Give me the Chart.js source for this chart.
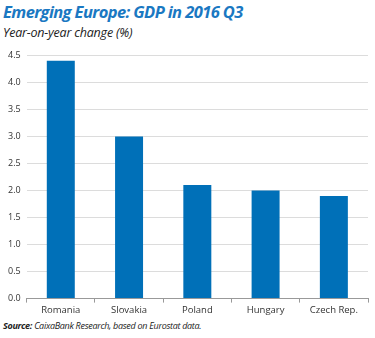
<!DOCTYPE html>
<html>
<head>
<meta charset="utf-8">
<script src="https://cdn.jsdelivr.net/npm/chart.js@4"></script>
<style>
  body { margin: 0; background: #fff; font-family: "Open Sans", sans-serif; }
  #wrap { position: relative; width: 375px; height: 338px; }
  .title { position: absolute; left: 3px; top: 0px; font: italic bold 16.5px "Open Sans", sans-serif; color: #1a78c2; letter-spacing: -0.6px; }
  .sub { position: absolute; left: 3px; top: 24px; font: italic 12.5px "Open Sans", sans-serif; color: #222; letter-spacing: -0.2px; }
  .src { position: absolute; left: 3px; top: 319px; font: italic 9px "Open Sans", sans-serif; color: #222; letter-spacing: -0.3px; }
  .src b { font-weight: bold; }
  #chartBox { position: absolute; left: 0; top: 44px; width: 375px; height: 274px; }
</style>
</head>
<body>
<div id="wrap">
  <div class="title">Emerging Europe: GDP in 2016 Q3</div>
  <div class="sub">Year-on-year change (%)</div>
  <div id="chartBox"><canvas id="c"></canvas></div>
  <div class="src"><b>Source:</b> CaixaBank Research, based on Eurostat data.</div>
</div>
<script>
const countries = ['Romania', 'Slovakia', 'Poland', 'Hungary', 'Czech Rep.'];
const gdpGrowth = [4.4, 3.0, 2.1, 2.0, 1.9];

new Chart(document.getElementById('c'), {
  type: 'bar',
  data: {
    labels: countries,
    datasets: [{
      data: gdpGrowth,
      backgroundColor: '#0070b8',
      barPercentage: 0.82,
      categoryPercentage: 0.5
    }]
  },
  options: {
    responsive: true,
    maintainAspectRatio: false,
    animation: false,
    layout: { padding: { left: 2, right: 7, top: 1, bottom: 0 } },
    plugins: { legend: { display: false }, tooltip: { enabled: false } },
    scales: {
      x: {
        grid: { display: true, drawOnChartArea: false, drawTicks: true, tickLength: 4, color: '#999', offset: true },
        border: { display: true, color: '#999' },
        ticks: { color: '#333', font: { family: 'Open Sans', size: 9.5 }, padding: 2 }
      },
      y: {
        min: 0,
        max: 4.5,
        ticks: {
          stepSize: 0.5,
          color: '#333',
          font: { family: 'Open Sans', size: 9 },
          padding: 6,
          callback: v => v.toFixed(1)
        },
        grid: { color: '#dcdcdc', drawTicks: false },
        border: { display: false }
      }
    }
  }
});
</script>
</body>
</html>
